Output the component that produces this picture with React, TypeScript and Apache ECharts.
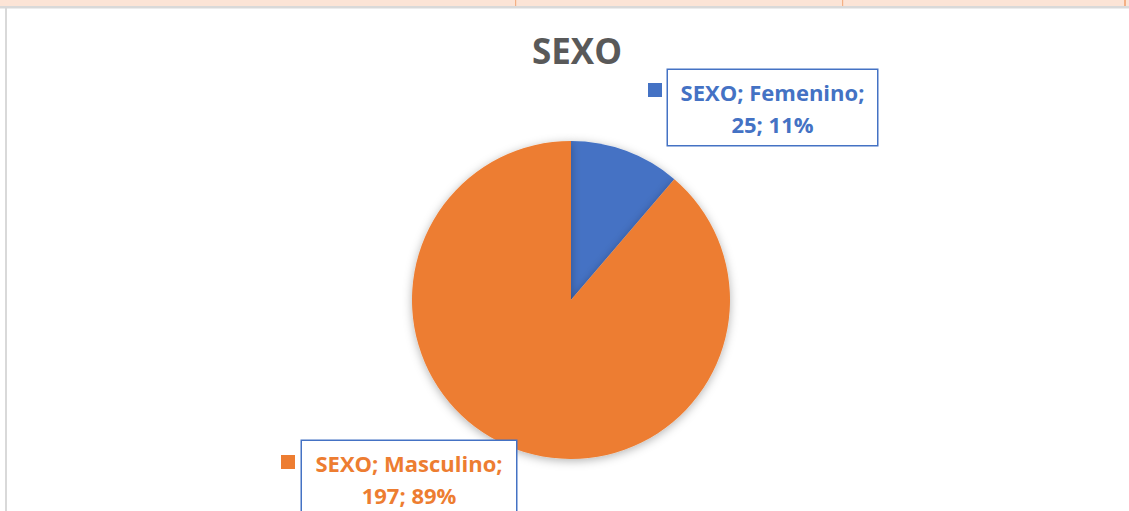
import React, { useEffect, useRef } from "react";
import * as echarts from "echarts";

const seriesName = "SEXO";
const categories = ["Femenino", "Masculino"];
const values = [25, 197];
const colors = ["#4472C4", "#ED7D31"];

export default function App() {
  const ref = useRef<HTMLDivElement>(null);
  useEffect(() => {
    if (!ref.current) return;
    const chart = echarts.init(ref.current, undefined, { renderer: "svg" });
    const labelBoxes = [
      { cx: 772.5, cy: 107.5, width: 193 },
      { cx: 409, cy: 478.5, width: 198 },
    ];
    const keyPos = [
      [648, 83],
      [281, 455],
    ];
    chart.setOption({
      animation: false,
      backgroundColor: "#ffffff",
      title: {
        text: seriesName,
        left: 572,
        top: 28,
        textAlign: "center",
        textStyle: {
          fontFamily: "Open Sans",
          fontWeight: "bold",
          fontSize: 35,
          color: "#595959",
        },
      },
      graphic: [
        { type: "rect", shape: { x: 0, y: 0, width: 1129, height: 6 }, style: { fill: "#FCE4D6" }, silent: true },
        { type: "rect", shape: { x: 0, y: 6, width: 1129, height: 2.5 }, style: { fill: "#D9D9D9" }, silent: true },
        { type: "rect", shape: { x: 515, y: 0, width: 1.2, height: 6 }, style: { fill: "#F4B084" }, silent: true },
        { type: "rect", shape: { x: 842, y: 0, width: 1.2, height: 6 }, style: { fill: "#F4B084" }, silent: true },
        { type: "rect", shape: { x: 1124, y: 0, width: 2, height: 6 }, style: { fill: "#F4B084" }, silent: true },
        { type: "rect", shape: { x: 5, y: 8, width: 2, height: 503 }, style: { fill: "#D9D9D9" }, silent: true },
        ...categories.map((_, i) => ({
          type: "rect",
          shape: { x: keyPos[i][0], y: keyPos[i][1], width: 14, height: 14 },
          style: { fill: colors[i] },
          silent: true,
        })),
      ],
      series: [
        {
          type: "pie",
          name: seriesName,
          center: [571, 300],
          radius: 159,
          startAngle: 90,
          clockwise: true,
          percentPrecision: 0,
          avoidLabelOverlap: false,
          itemStyle: {
            borderWidth: 0,
            shadowBlur: 10,
            shadowColor: "rgba(0,0,0,0.3)",
            shadowOffsetY: 2,
          },
          labelLine: { show: false },
          label: {
            show: true,
            position: "outside",
            formatter: "{a}; {b};\n{c}; {d}%",
            fontFamily: "Open Sans",
            fontWeight: "bold",
            fontSize: 22,
            lineHeight: 32,
            align: "center",
            borderColor: "#4472C4",
            borderWidth: 1.5,
            backgroundColor: "#ffffff",
            padding: [5, 8, 6, 8],
          },
          labelLayout: (params: any) => {
            const b = labelBoxes[params.dataIndex];
            return { x: b.cx, y: b.cy, align: "center", verticalAlign: "middle" };
          },
          data: categories.map((c, i) => ({
            name: c,
            value: values[i],
            itemStyle: { color: colors[i] },
            label: { color: colors[i], width: labelBoxes[i].width },
          })),
        },
      ],
    });
    return () => chart.dispose();
  }, []);
  return (
    <div
      ref={ref}
      style={{ position: "fixed", left: 0, top: 0, width: 1129, height: 511 }}
    />
  );
}
